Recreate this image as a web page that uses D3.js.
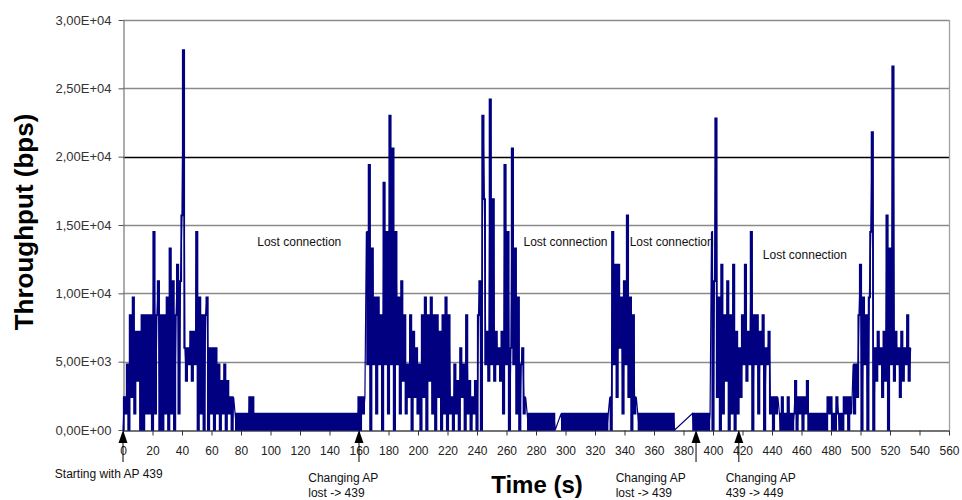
<!DOCTYPE html>
<meta charset="utf-8">
<style>
  body { margin: 0; background: #fff; }
  svg text { font-family: "Liberation Sans", Arial, sans-serif; }
</style>
<body>
<svg id="chart" width="962" height="500"></svg>
<script src="https://d3js.org/d3.v7.min.js"></script>
<script>
// throughput in bps, one reading per second
var burst1 = [ // 0 s .. 75 s
  0, 2400, 1200, 4800, 0, 8400, 2400, 9700, 1200, 7200,
  3600, 7200, 0, 8400, 0, 8400, 1200, 8400, 1200, 8400,
  0, 14500, 1200, 8400, 10900, 0, 8400, 0, 8400, 1200,
  9700, 0, 13300, 1200, 10900, 0, 8400, 12100, 1200, 10900,
  15700, 27800, 6000, 3600, 6000, 4800, 7200, 3600, 7200, 4800,
  14500, 0, 9700, 1200, 8400, 0, 8400, 9700, 0, 6000,
  1200, 6000, 0, 6000, 1200, 4800, 0, 3600, 1200, 4800,
  0, 3600, 1200, 2400, 0, 2400
];
var idle1 = [ // 76 s .. 164 s
  1200, 0, 1200, 0, 1200, 0, 1200, 0, 1200, 0,
  2400, 0, 2400, 0,
  1200, 0, 1200, 0, 1200, 0, 1200, 0, 1200, 0,
  1200, 0, 1200, 0, 1200, 0, 1200, 0, 1200, 0,
  1200, 0, 1200, 0, 1200, 0, 1200, 0, 1200, 0,
  1200, 0, 1200, 0, 1200, 0, 1200, 0, 1200, 0,
  1200, 0, 1200, 0, 1200, 0, 1200, 0, 1200, 0,
  1200, 0, 1200, 0, 1200, 0, 1200, 0, 1200, 0,
  1200, 0, 1200, 0, 1200, 0, 1200, 0, 1200, 0,
  2400, 0, 2400, 1200, 2400
];
var burst2 = [ // 165 s .. 273 s
  14500, 4800, 19400, 0, 13300, 4800, 9700, 1200, 9700, 4800,
  8400, 0, 18100, 4800, 14500, 1200, 23000, 4800, 20600, 0,
  14500, 4800, 9700, 1200, 10900, 3600, 8400, 1200, 4800, 2400,
  8400, 0, 7200, 2400, 6000, 1200, 4800, 0, 8400, 2400,
  9700, 0, 8400, 3600, 9700, 1200, 8400, 0, 8400, 2400,
  7200, 0, 8400, 1200, 9700, 0, 8400, 1200, 2400, 0,
  4800, 1200, 3600, 0, 6000, 2400, 4800, 0, 8400, 1200,
  3600, 0, 2400, 1200, 3600, 0, 8400, 10900, 0, 23000,
  16900, 4800, 7200, 3600, 24200, 4800, 16900, 3600, 7200, 4800,
  6000, 3600, 7200, 1200, 19400, 4800, 14500, 0, 6000, 20600,
  4800, 13300, 1200, 9700, 0, 4800, 6000, 1200, 2400
];
var idle2a = [ // 274 s .. 293 s
  1200, 0, 1200, 0, 1200, 0, 1200, 0, 1200, 0,
  1200, 0, 1200, 0, 1200, 0, 1200, 0, 1200, 0
];
var idle2b = [ // 297 s .. 329 s
  1200, 0, 1200, 0, 1200, 0, 1200, 0, 1200, 0,
  1200, 0, 1200, 0, 1200, 0, 1200, 0, 1200, 0,
  1200, 0, 1200, 0, 1200, 0, 1200, 0, 1200, 0,
  1200, 0, 1200
];
var burst3 = [ // 330 s .. 348 s
  2400, 0, 14500, 4800, 12100, 2400, 12100, 6000, 9700, 1200,
  10900, 4800, 15700, 2400, 9700, 0, 8400, 1200, 2400
];
var idle3 = [ // 349 s .. 374 s
  1200, 0, 1200, 0, 1200, 0, 1200, 0, 1200, 0,
  1200, 0, 1200, 0, 1200, 0, 1200, 0, 1200, 0,
  1200, 0, 1200, 0, 1200, 0
];
var idle4 = [ // 386 s .. 398 s
  1200, 0, 1200, 0, 1200, 0, 1200, 0, 1200, 0,
  1200, 0, 1200
];
var burst4 = [ // 399 s .. 444 s
  14500, 0, 10900, 22800, 2400, 9700, 0, 12100, 1200, 8400,
  3600, 10900, 0, 8400, 1200, 12100, 0, 7200, 1200, 6000,
  2400, 8400, 4800, 12100, 3600, 7200, 4800, 14500, 0, 8400,
  4800, 8400, 1200, 7200, 4800, 8400, 0, 6000, 4800, 7200,
  1200, 2400, 0, 2400, 1200, 2400
];
var idle5 = [ // 445 s .. 494 s
  1200, 0, 2400, 0, 1200, 0, 2400, 0, 1200, 0,
  1200, 3600, 0, 2400, 1200, 2400, 0, 2400, 1200, 3600,
  0, 1200, 0, 1200, 0, 1200, 0, 1200, 0, 1200,
  0, 1200, 0, 2400, 1200, 2400, 0, 1200, 0, 2400,
  1200, 0, 1200, 0, 2400, 1200, 2400, 0, 2400, 1200
];
var burst5 = [ // 495 s .. 534 s
  4800, 1200, 4800, 2400, 8400, 12100, 0, 9700, 4800, 8400,
  0, 9700, 14500, 21800, 0, 6000, 3600, 7200, 4800, 6000,
  2400, 7200, 3600, 15700, 0, 13300, 4800, 26600, 3600, 7200,
  4800, 6000, 2400, 7200, 3600, 6000, 4800, 8400, 3600, 6000
];
// start time (s) of each run of readings; missing seconds are simply joined
var pieceStarts = [0, 76, 165, 274, 297, 330, 349, 386, 399, 445, 495];
var pieces = [burst1, idle1, burst2, idle2a, idle2b, burst3, idle3, idle4, burst4, idle5, burst5];

var xTicks = d3.range(0, 561, 20);
var yTicks = [0, 5000, 10000, 15000, 20000, 25000, 30000];
var yLabels = ["0,00E+00", "5,00E+03", "1,00E+04", "1,50E+04", "2,00E+04", "2,50E+04", "3,00E+04"];

var lostTimes = [91, 271.5, 343.5, 433.8];
var lostLevels = [13460, 13460, 13460, 12510];

var arrowTimes = [0, 160, 388.5, 417.5];
var arrowText = [["Starting with AP 439"], ["Changing AP", "lost -> 439"], ["Changing AP", "lost -> 439"], ["Changing AP", "439 -> 449"]];
var arrowTextStart = [-46.2, 125.6, 334, 408.6];

var svg = d3.select("#chart");
var x = d3.scaleLinear().domain([0, 560]).range([123, 949]);
var y = d3.scaleLinear().domain([0, 30000]).range([430, 20]);

// grid lines
svg.append("g").selectAll("line")
  .data(yTicks.slice(1))
  .enter().append("line")
  .attr("x1", 123).attr("x2", 949)
  .attr("y1", function (d) { return Math.round(y(d)) + 0.5; })
  .attr("y2", function (d) { return Math.round(y(d)) + 0.5; })
  .attr("stroke", function (d) { return d === 20000 ? "#000" : "#8a8a8a"; })
  .attr("stroke-width", 1.3);

svg.append("line")
  .attr("x1", 949.5).attr("x2", 949.5).attr("y1", 20).attr("y2", 430)
  .attr("stroke", "#a0a0a0").attr("stroke-width", 1.3);

// axes
var yAxis = svg.append("g")
  .attr("transform", "translate(123.5,0)")
  .call(d3.axisLeft(y).tickValues(yTicks).tickFormat(function (d, i) { return yLabels[i]; })
    .tickSize(5).tickSizeOuter(0).tickPadding(7));
yAxis.select(".domain").attr("stroke", "#808080").attr("stroke-width", 1.3);
yAxis.selectAll("line").attr("stroke", "#555");
yAxis.selectAll("text").attr("font-size", 13).attr("fill", "#333")
  .attr("font-family", "'Liberation Sans', Arial, sans-serif");

var xAxis = svg.append("g")
  .attr("transform", "translate(0,430.5)")
  .call(d3.axisBottom(x).tickValues(xTicks).tickSize(5).tickSizeOuter(0).tickPadding(11));
xAxis.select(".domain").attr("stroke", "#444").attr("stroke-width", 1.3);
xAxis.selectAll("line").attr("stroke", "#333");
xAxis.selectAll("text").attr("font-size", 12).attr("fill", "#222")
  .attr("font-family", "'Liberation Sans', Arial, sans-serif");

// data
var points = [];
pieces.forEach(function (vals, p) {
  vals.forEach(function (v, i) { points.push({ t: pieceStarts[p] + i, v: v }); });
});

var runs = [];
pieces.forEach(function (vals, p) {
  runs.push(vals.map(function (v, i) { return { t: pieceStarts[p] + i, v: v }; }));
});

// straight line through every reading (also bridges the missing seconds)
svg.append("path")
  .datum(points)
  .attr("d", d3.line().x(function (d) { return x(d.t); }).y(function (d) { return y(d.v); }))
  .attr("fill", "none")
  .attr("stroke", "#000080")
  .attr("stroke-width", 1.2);

// each run of readings again as steps, so the dense parts come out solid
var step = d3.line()
  .x(function (d) { return x(d.t); })
  .y(function (d) { return y(d.v); })
  .curve(d3.curveStep);

svg.append("g").selectAll("path")
  .data(runs)
  .enter().append("path")
  .attr("d", step)
  .attr("fill", "none")
  .attr("stroke", "#000080")
  .attr("stroke-width", 1.7);

// "Lost connection" notes
svg.append("g").selectAll("text")
  .data(lostTimes)
  .enter().append("text")
  .attr("x", function (d) { return x(d); })
  .attr("y", function (d, i) { return y(lostLevels[i]); })
  .attr("font-size", 12)
  .attr("fill", "#111")
  .text("Lost connection");

// arrows under the axis
var arrows = svg.append("g").selectAll("g")
  .data(arrowTimes)
  .enter().append("g");

arrows.append("path")
  .attr("d", function (d) {
    var cx = x(d);
    return "M" + cx + ",430L" + (cx - 4.5) + ",443L" + (cx + 4.5) + ",443Z";
  })
  .attr("fill", "#000");

arrows.append("line")
  .attr("x1", function (d) { return x(d); })
  .attr("x2", function (d) { return x(d); })
  .attr("y1", 443).attr("y2", 462)
  .attr("stroke", "#000").attr("stroke-width", 1);

arrows.each(function (d, i) {
  var g = d3.select(this);
  var lines = arrowText[i];
  lines.forEach(function (s, k) {
    g.append("text")
      .attr("x", x(arrowTextStart[i]))
      .attr("y", (lines.length === 1 ? 478 : 482) + k * 15)
      .attr("font-size", 12)
      .attr("fill", "#111")
      .text(s);
  });
});

// axis titles
svg.append("text")
  .attr("transform", "translate(33,222) rotate(-90)")
  .attr("text-anchor", "middle")
  .attr("font-size", 26)
  .attr("font-weight", "bold")
  .text("Throughput (bps)");

svg.append("text")
  .attr("x", 537).attr("y", 493)
  .attr("text-anchor", "middle")
  .attr("font-size", 24)
  .attr("font-weight", "bold")
  .text("Time (s)");
</script>
</body>
